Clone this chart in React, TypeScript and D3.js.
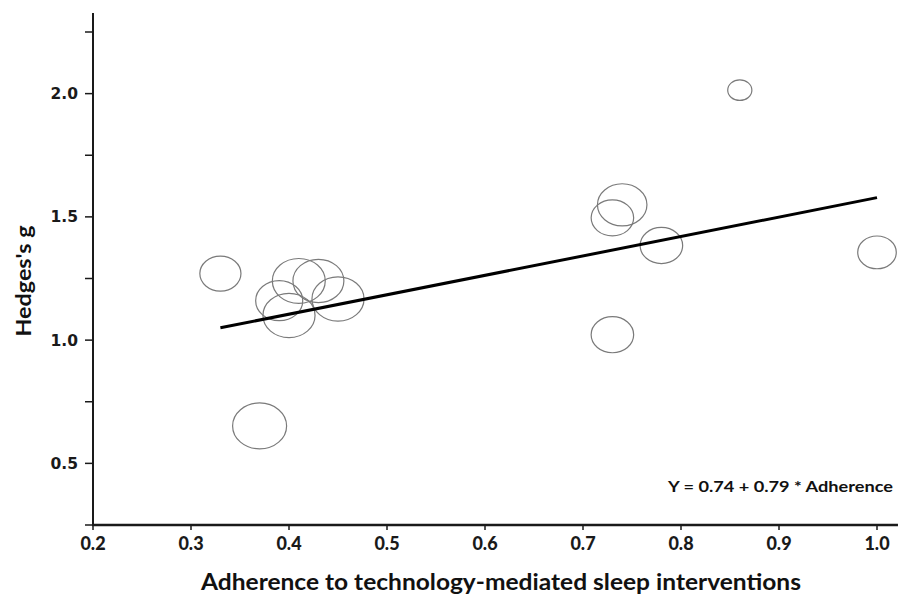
import React from "react";
import * as d3 from "d3";

// Study data
const adherence = [0.33, 0.41, 0.43, 0.39, 0.45, 0.40, 0.37, 0.86, 0.74, 0.73, 0.78, 1.0, 0.73];
const hedgesG = [1.27, 1.24, 1.24, 1.16, 1.167, 1.10, 0.652, 2.014, 1.549, 1.496, 1.384, 1.356, 1.022];
const weights = [5.8, 9.6, 8.9, 7.6, 9.3, 9.3, 10.0, 2.0, 8.4, 6.2, 6.2, 5.1, 6.2];

// Regression line as drawn
const lineX = [0.33, 1.0];
const lineY = [1.05, 1.578];

const xTicks = [0.2, 0.3, 0.4, 0.5, 0.6, 0.7, 0.8, 0.9, 1.0];
const yTicks = [0.25, 0.5, 0.75, 1.0, 1.25, 1.5, 1.75, 2.0, 2.25];
const yLabelTicks = [0.5, 1.0, 1.5, 2.0];

const equationText = "Y = 0.74 + 0.79 * Adherence";
const xTitle = "Adherence to technology-mediated sleep interventions";
const yTitle = "Hedges's g";

export default function App() {
  const W = 898;
  const H = 598;
  const x = d3.scaleLinear().domain([0.2, 1.0]).range([93, 877]);
  const y = d3.scaleLinear().domain([0.25, 2.25]).range([525, 32]);
  const r = d3.scaleSqrt().domain([0, 10]).range([0, 27]);
  const line = d3
    .line<number>()
    .x((_, i) => x(lineX[i]))
    .y((d) => y(d));

  const xAxisRight = x(1.0214);
  const yAxisTop = y(2.327);

  return (
    <svg
      width={W}
      height={H}
      style={{ position: "absolute", left: 0, top: 0, background: "#fff" }}
    >
      {/* bubbles */}
      {adherence.map((a, i) => {
        const rx = r(weights[i]);
        return (
          <ellipse
            key={i}
            cx={x(a)}
            cy={y(hedgesG[i])}
            rx={rx}
            ry={rx * 0.85}
            fill="none"
            stroke="#7a7a7a"
            strokeWidth={1.2}
          />
        );
      })}

      {/* regression line */}
      <path d={line(lineY) || ""} fill="none" stroke="#000" strokeWidth={3} />

      {/* y axis */}
      <line x1={x(0.2)} x2={x(0.2)} y1={yAxisTop} y2={y(0.25)} stroke="#1a1a1a" strokeWidth={2} />
      {yTicks.map((t) => (
        <line key={t} x1={x(0.2) - 8} x2={x(0.2)} y1={y(t)} y2={y(t)} stroke="#1a1a1a" strokeWidth={1.5} />
      ))}
      {yLabelTicks.map((t) => (
        <text
          key={t}
          x={78}
          y={y(t)}
          dy="0.36em"
          textAnchor="end"
          fontFamily="DejaVu Sans"
          fontWeight="bold"
          fontSize={15.5}
          fill="#1a1a1a"
        >
          {t.toFixed(1)}
        </text>
      ))}

      {/* x axis */}
      <line x1={x(0.2) - 1} x2={xAxisRight} y1={y(0.25)} y2={y(0.25)} stroke="#1a1a1a" strokeWidth={2.6} />
      {xTicks.map((t) => (
        <line key={t} x1={x(t)} x2={x(t)} y1={y(0.25)} y2={y(0.25) + 5} stroke="#1a1a1a" strokeWidth={1.5} />
      ))}
      {xTicks.map((t) => (
        <text
          key={t}
          x={x(t)}
          y={549.5}
          textAnchor="middle"
          fontFamily="Lato"
          fontWeight="900"
          fontSize={18}
          fill="#1a1a1a"
        >
          {t.toFixed(1)}
        </text>
      ))}

      {/* equation */}
      <text
        x={668}
        y={492}
        fontFamily="Lato"
        fontWeight="bold"
        fontSize={15.5}
        textLength={225}
        lengthAdjust="spacingAndGlyphs"
        fill="#111"
      >
        {equationText}
      </text>

      {/* axis titles */}
      <text
        x={501}
        y={590}
        textAnchor="middle"
        fontFamily="Lato"
        fontWeight="bold"
        fontSize={22}
        textLength={600}
        lengthAdjust="spacingAndGlyphs"
        fill="#111"
      >
        {xTitle}
      </text>
      <text
        transform={`translate(31,281) rotate(-90)`}
        textAnchor="middle"
        fontFamily="Lato"
        fontWeight="bold"
        fontSize={21}
        textLength={111}
        lengthAdjust="spacingAndGlyphs"
        fill="#111"
      >
        {yTitle}
      </text>
    </svg>
  );
}
